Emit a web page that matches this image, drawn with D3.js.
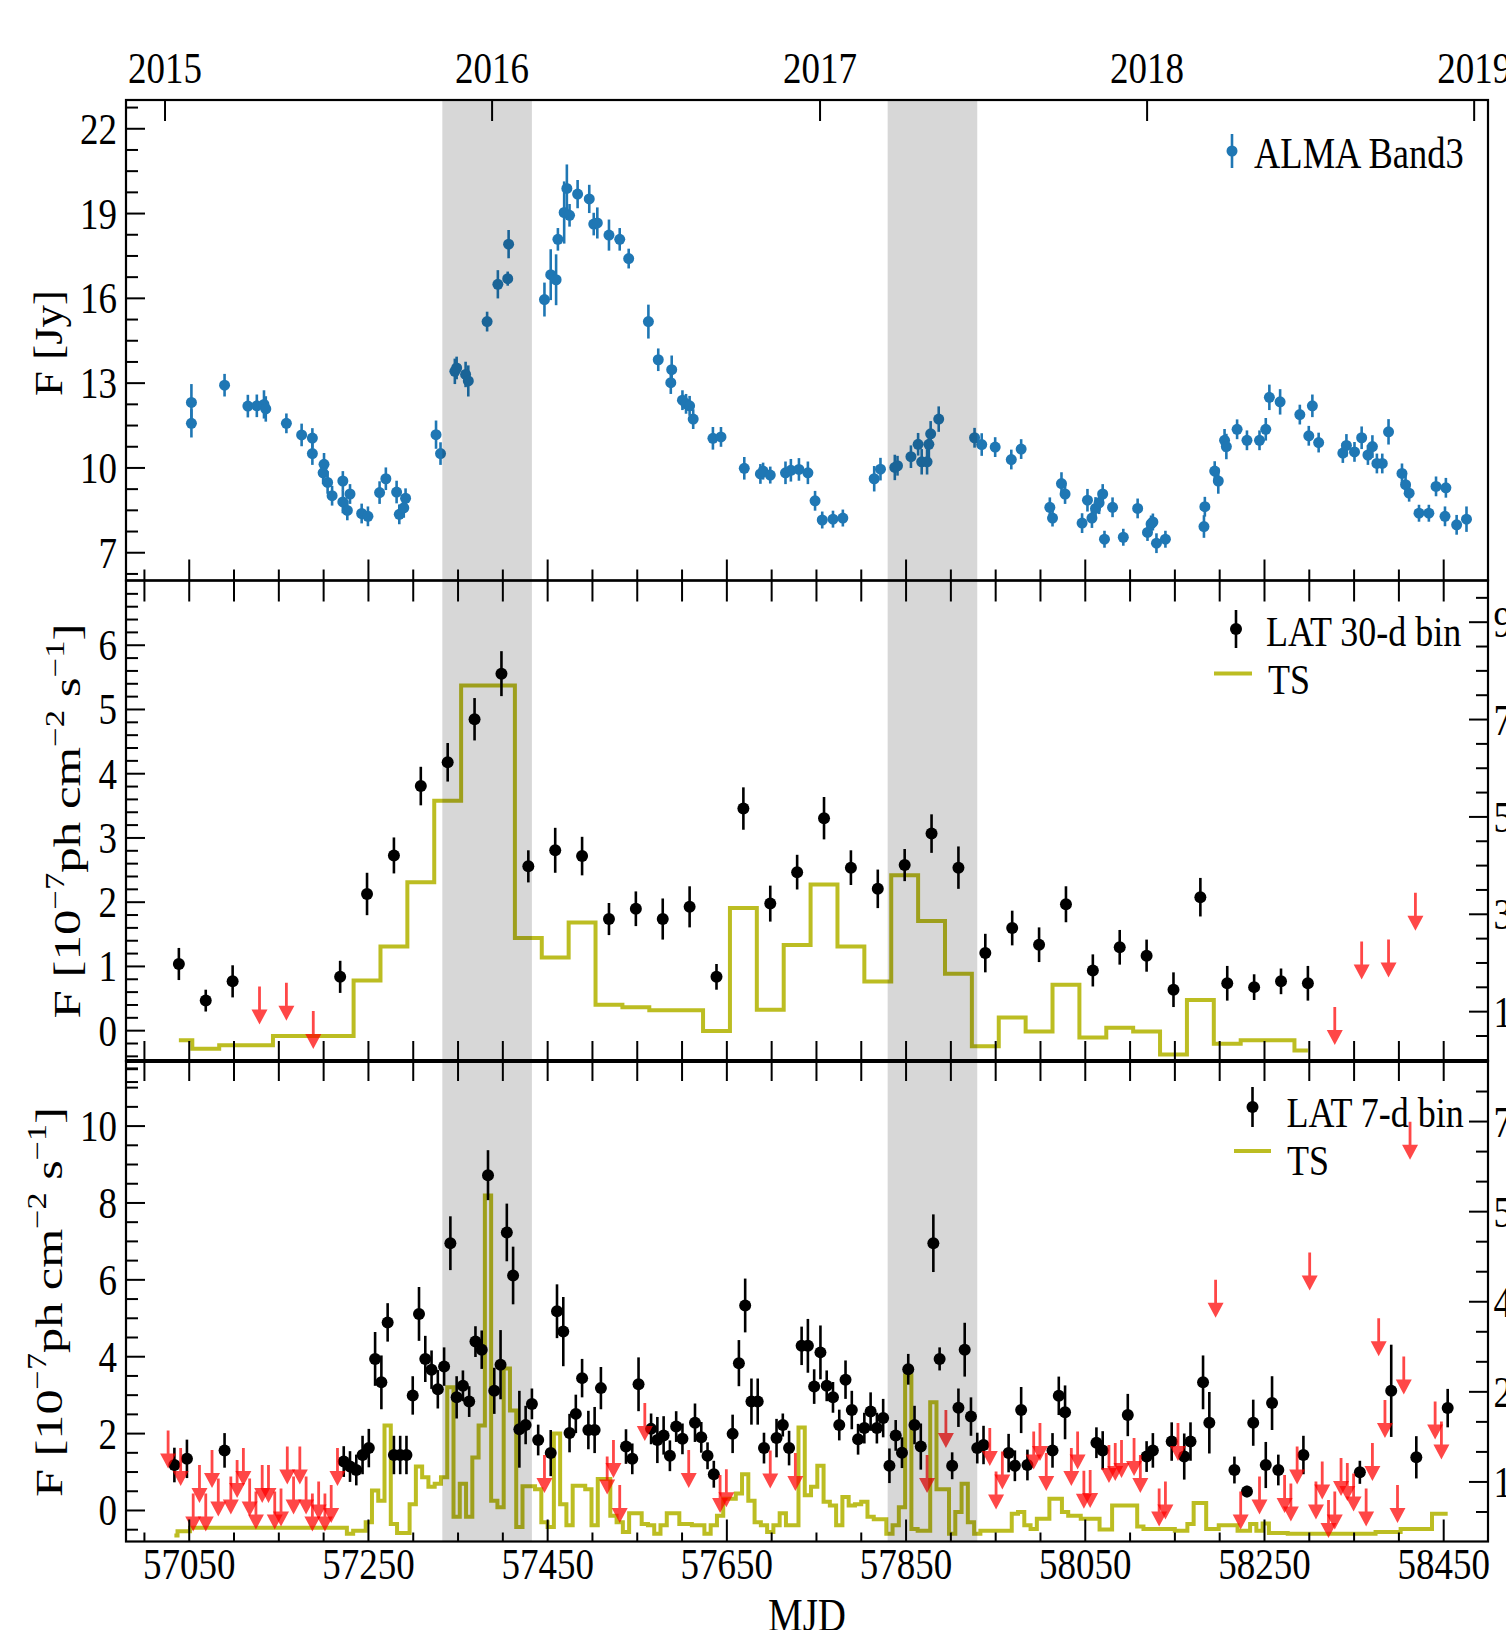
<!DOCTYPE html>
<html>
<head>
<meta charset="utf-8">
<script src="https://cdn.jsdelivr.net/npm/d3@7"></script>
<style>
  body { margin: 0; background: #fff; }
  svg { display: block; }
  text { font-family: "Liberation Serif", "Times New Roman", serif; fill: #000; }
</style>
</head>
<body>
<svg id="chart" width="1506" height="1630"></svg>
<script>
/* ********* data ********* */

// ALMA Band 3 light curve (MJD, flux density in Jy, 1-sigma error)
const almaMJD = [57053,57053,57090,57116,57126,57134,57136,57159,57176,57188,
  57188,57201,57200,57205,57210,57222,57222,57227,57230,57243,
  57250,57263,57270,57282,57285,57290,57292,57326,57331,57347,
  57349,57359,57362,57383,57395,57406,57407,57447,57454,57460,
  57462,57469,57472,57475,57484,57497,57502,57506,57519,57531,
  57541,57563,57574,57588,57589,57601,57605,57609,57613,57635,
  57644,57670,57688,57691,57699,57716,57722,57731,57741,57749,
  57757,57769,57780,57815,57822,57838,57841,57856,57864,57868,
  57874,57876,57878,57887,57927,57935,57950,57968,57979,58011,
  58014,58024,58028,58047,58053,58058,58062,58066,58070,58072,
  58081,58093,58109,58120,58124,58126,58130,58140,58183,58184,
  58195,58199,58206,58208,58220,58231,58245,58252,58256,58268,
  58290,58300,58304,58311,58338,58342,58351,58359,58366,58371,
  58376,58382,58389,58404,58408,58412,58423,58434,58442,58452,
  58453,58465,58476];
const almaFlux = [12.30,11.56,12.91,12.17,12.18,12.23,12.07,11.56,11.15,11.04,
  10.49,10.11,9.81,9.47,9.00,9.52,8.78,8.48,9.06,8.37,
  8.27,9.11,9.60,9.13,8.34,8.57,8.91,11.16,10.49,13.40,
  13.52,13.29,13.06,15.16,16.48,16.68,17.90,15.94,16.82,16.64,
  18.07,19.02,19.87,18.92,19.67,19.50,18.61,18.65,18.22,18.07,
  17.39,15.16,13.81,13.00,13.46,12.38,12.25,12.18,11.71,11.03,
  11.08,9.97,9.77,9.87,9.73,9.81,9.90,9.93,9.81,8.82,
  8.14,8.17,8.21,9.60,9.94,10.00,10.06,10.38,10.82,10.20,
  10.20,10.82,11.19,11.71,11.05,10.81,10.72,10.28,10.65,8.59,
  8.21,9.43,9.06,8.03,8.84,8.21,8.55,8.75,9.06,7.46,
  8.59,7.53,8.55,7.70,8.00,8.07,7.32,7.46,7.91,8.61,
  9.87,9.52,10.96,10.74,11.35,10.96,10.96,11.35,12.48,12.32,
  11.87,11.12,12.18,10.88,10.51,10.78,10.55,11.05,10.44,10.74,
  10.14,10.14,11.26,9.79,9.39,9.09,8.38,8.38,9.33,8.27,
  9.28,7.97,8.17];
const almaErr = [0.65,0.5,0.4,0.4,0.4,0.5,0.45,0.35,0.4,0.35,
  0.4,0.4,0.4,0.4,0.35,0.35,0.4,0.35,0.35,0.35,
  0.35,0.4,0.4,0.4,0.35,0.35,0.35,0.5,0.4,0.45,
  0.4,0.45,0.55,0.35,0.5,0.25,0.5,0.6,0.9,0.9,
  0.4,1.1,0.85,0.4,0.5,0.5,0.4,0.55,0.55,0.4,
  0.35,0.6,0.4,0.4,0.5,0.35,0.35,0.35,0.35,0.4,
  0.35,0.4,0.35,0.3,0.3,0.4,0.4,0.4,0.4,0.35,
  0.3,0.3,0.3,0.45,0.4,0.45,0.35,0.4,0.4,0.45,
  0.45,0.5,0.45,0.45,0.35,0.4,0.35,0.35,0.35,0.35,
  0.3,0.4,0.35,0.35,0.4,0.35,0.4,0.4,0.35,0.3,
  0.35,0.3,0.35,0.3,0.3,0.3,0.35,0.3,0.4,0.35,
  0.35,0.45,0.4,0.45,0.35,0.35,0.35,0.4,0.45,0.45,
  0.35,0.35,0.4,0.35,0.35,0.4,0.35,0.4,0.35,0.4,
  0.35,0.35,0.45,0.35,0.35,0.3,0.3,0.3,0.35,0.35,
  0.35,0.35,0.45];

// Fermi-LAT 30-day bins (flux in 1e-7 ph/cm2/s; err 0 = upper limit)
const lat30Start = 57039, lat30Step = 30;
const lat30Flux = [1.03,0.46,0.76,0.68,0.74,0.30,0.83,2.12,2.72,3.80,
  4.17,4.84,5.55,2.55,2.80,2.71,1.73,1.89,1.73,1.92,
  0.83,3.45,1.97,2.46,3.30,2.53,2.20,2.57,3.06,2.53,
  1.20,1.59,1.33,1.96,0.93,1.29,1.16,0.63,2.07,0.73,
  0.67,0.76,0.73,0.36,1.38,1.41,2.14];
const lat30Err = [0.25,0.17,0.25,0,0,0,0.25,0.33,0.28,0.30,
  0.30,0.33,0.35,0.25,0.35,0.30,0.25,0.27,0.32,0.32,
  0.20,0.33,0.28,0.27,0.33,0.27,0.30,0.25,0.30,0.33,
  0.30,0.27,0.27,0.28,0.25,0.27,0.25,0.27,0.30,0.27,
  0.20,0.20,0.27,0,0,0,0];
const lat30TS = [40,23,30,30,49,49,49,163,233,365,
  532,769,769,250,210,282,113,108,102,102,
  59,312,103,236,360,233,161,379,285,177,
  28,87,58,154,46,66,58,11,123,33,
  40,40,19];

// Fermi-LAT 7-day bins (null = no data; err 0 = upper limit)
const lat7Start = 57027, lat7Step = 7;
const lat7Flux = [2.07,1.17,1.61,1.33,0.43,1.17,0.43,1.56,0.82,1.55,
  0.87,1.30,1.61,0.82,0.48,1.17,1.17,0.48,0.56,1.65,
  0.87,1.65,0.87,0.43,0.74,0.43,0.65,1.61,1.26,1.13,
  1.04,1.43,1.61,3.93,3.32,4.88,1.43,1.43,1.43,2.98,
  5.10,3.93,3.65,3.14,3.73,6.94,2.93,3.23,2.82,4.38,
  4.17,8.71,3.10,3.78,7.22,6.10,2.10,2.21,2.76,1.82,
  1.43,1.48,5.17,4.64,2.00,2.50,3.43,2.08,2.08,3.17,
  1.39,1.82,0.65,1.65,1.33,3.27,2.78,2.11,1.82,1.94,
  1.41,2.17,1.85,1.56,2.27,1.89,1.41,0.93,0.91,1.06,
  1.98,3.82,5.32,2.82,2.82,1.61,1.55,1.87,2.21,1.61,
  1.48,4.27,4.27,3.21,4.10,3.23,2.93,2.21,3.39,2.60,
  1.84,2.13,2.56,2.13,2.39,1.15,1.94,1.49,3.66,2.21,
  1.65,1.43,6.94,3.93,2.60,1.15,2.66,4.17,2.43,1.61,
  1.69,2.13,1.00,1.52,1.48,1.15,2.60,1.17,2.04,2.26,
  1.48,1.55,2.97,2.54,1.61,2.04,1.02,1.04,1.75,1.55,
  1.69,1.74,1.82,2.47,1.87,1.43,1.39,1.55,0.56,0.74,
  1.78,2.26,1.39,1.78,null,3.32,2.27,5.99,null,null,
  1.04,0.48,0.48,2.27,0.87,1.17,2.78,1.04,0.91,0.69,
  1.65,1.43,6.70,0.74,1.26,0.26,0.48,1.35,1.22,0.95,
  0.98,0.56,1.74,4.99,2.86,3.10,0.65,3.99,10.1,1.37,
  null,null,2.82,2.30,2.65];
const lat7Err = [0,0.45,0,0.5,0,0,0,0,0,0.45,
  0,0,0,0,0,0,0,0,0,0,
  0,0,0,0,0,0,0,0,0.4,0.4,
  0.4,0.5,0.5,0.7,0.7,0.5,0.5,0.5,0.5,0.5,
  0.7,0.6,0.5,0.5,0.5,0.7,0.55,0.4,0.4,0.4,
  0.5,0.65,0.6,0.9,0.75,0.75,1.0,0.5,0.4,0.4,
  0,0.6,0.7,0.9,0.5,0.5,0.5,0.5,0.6,0.55,
  0,0,0,0.45,0.4,0.7,0,0.4,0.6,0.5,
  0.4,0.4,0.4,0,0.5,0.4,0.35,0.35,0,0,
  0.5,0.6,0.7,0.6,0.6,0.4,0,0.5,0.3,0.45,
  0,0.5,0.7,0.45,0.7,0.4,0.4,0.4,0.5,0.5,
  0.4,0.4,0.5,0.4,0.5,0.45,0.4,0.4,0.4,0.5,
  0.6,0,0.75,0.3,0,0.35,0.5,0.7,0.5,0.4,
  0.5,0,0,0,0.5,0.4,0.6,0.4,0,0,
  0,0.45,0.5,0.7,0,0,0,0,0.4,0.5,
  0,0,0,0.55,0,0,0.4,0.45,0,0,
  0.5,0,0.6,0.5,0,0.7,0.8,0,0,0,
  0.35,0,0.15,0.6,0,0.6,0.7,0.4,0,0,
  0,0.5,0,0,0,0,0,0,0,0,
  0.3,0,0,0,0,1.2,0,0,0,0.55,
  0,0,0,0,0.5];
const lat7TS = [null,1.0,1.7,1.7,2.3,2.3,2.3,2.3,2.3,2.3,
  2.3,2.3,2.3,2.3,2.3,2.3,2.3,2.3,2.3,2.3,
  2.3,2.3,2.3,2.3,2.3,2.3,2.3,2.3,2.3,1.3,
  1.8,1.8,3.2,8.5,6.8,19.3,2.9,1.4,1.4,6.2,
  12.5,10.7,9.1,9.6,10.7,25.7,4.1,9.6,4.1,14.0,
  19.3,57.6,6.8,5.7,28.8,21.8,2.4,9.2,9.2,8.7,
  3.2,2.4,18.0,6.2,2.7,9.3,9.3,8.7,2.7,10.4,
  10.4,4.3,3.2,1.6,4.7,4.7,2.9,2.7,1.3,2.7,
  4.7,4.7,2.9,2.9,2.7,2.7,1.3,2.7,4.3,7.1,
  7.1,8.0,11.2,6.8,3.2,2.7,1.6,2.7,4.7,2.7,
  2.7,19.0,7.7,9.1,12.6,6.6,6.0,2.7,7.4,6.0,
  6.2,6.6,4.1,3.7,3.7,1.3,2.7,5.7,27.7,2.1,
  1.8,1.8,23.2,8.7,8.7,1.3,4.9,9.6,3.2,1.3,
  1.8,1.8,1.8,1.8,1.8,4.6,4.9,2.7,2.1,3.8,
  3.8,7.1,7.1,4.9,4.3,4.3,3.8,3.8,3.8,2.0,
  2.0,6.0,6.0,6.0,6.0,2.5,2.1,2.1,2.1,2.1,
  2.1,1.8,1.8,2.9,6.4,6.4,2.1,2.1,2.7,2.7,
  2.7,1.8,1.8,2.9,1.8,3.0,1.4,1.4,1.4,1.3,
  1.3,1.3,1.3,1.3,1.3,1.3,1.3,1.3,1.3,1.3,
  1.3,1.3,1.3,1.6,1.6,1.6,1.6,2.1,2.1,2.1,
  2.1,2.1,4.6,4.6,4.6];

// shaded intervals (MJD)
const bands = [[57333, 57433], [57830, 57930]];

// axis ticks / labels
const yearLabels = ["2015", "2016", "2017", "2018", "2019"];
const yearMJD = [57023, 57388, 57754, 58119, 58484];
const mjdMajor = [57050, 57250, 57450, 57650, 57850, 58050, 58250, 58450];
const almaTicks = [7, 10, 13, 16, 19, 22];
const lat30Ticks = [0, 1, 2, 3, 4, 5, 6];
const lat7Ticks = [0, 2, 4, 6, 8, 10];
const ts30Ticks = [100, 300, 500, 700, 900];
const ts7Ticks = [10, 25, 40, 55, 70];

/* ********* layout ********* */
const BLUE = "#1f77b4", OLIVE = "#bcbd22", RED = "#ff0000";
const X0 = 126, X1 = 1488;
const P = [[100, 580.5], [580.5, 1061], [1061, 1541.5]];
const SY = 1.2;          // the figure is stretched vertically
const FS = 37;           // tick label size

const svg = d3.select("#chart");
const x = d3.scaleLinear().domain([56980, 58500]).range([X0, X1]);
const yA = d3.scaleLinear().domain([6, 23]).range([P[0][1], P[0][0]]);
const yM = d3.scaleLinear().domain([-0.48, 7]).range([P[1][1], P[1][0]]);
const yB = d3.scaleLinear().domain([-0.82, 11.68]).range([P[2][1], P[2][0]]);
const tsM = d3.scaleLinear().domain([-2.4, 984.6]).range([P[1][1], P[1][0]]);
const tsB = d3.scaleLinear().domain([0, 80]).range([P[2][1], P[2][0]]);

/* ********* helpers ********* */
function errbars(g, data, y, color, r) {
  g.selectAll(null).data(data).enter().append("line")
    .attr("x1", d => x(d.mjd)).attr("x2", d => x(d.mjd))
    .attr("y1", d => y(d.v - d.e)).attr("y2", d => y(d.v + d.e))
    .attr("stroke", color).attr("stroke-width", 2.6);
  g.selectAll(null).data(data).enter().append("circle")
    .attr("cx", d => x(d.mjd)).attr("cy", d => y(d.v)).attr("r", r)
    .attr("fill", color);
}

function arrows(g, data, y) {
  const L = 38, hh = 15, hw = 8, sw = 1.4;
  g.selectAll(null).data(data).enter().append("path")
    .attr("d", d => {
      const cx = x(d.mjd), y0 = y(d.v), yh = y0 + L - hh;
      return `M${cx - sw},${y0}L${cx + sw},${y0}L${cx + sw},${yh}L${cx + hw},${yh}` +
             `L${cx},${y0 + L}L${cx - hw},${yh}L${cx - sw},${yh}Z`;
    })
    .attr("fill", RED).attr("fill-opacity", 0.72);
}

function tsLine(g, data, y) {
  g.append("path").datum(data)
    .attr("d", d3.line().x(d => x(d.mjd)).y(d => y(d.t)).curve(d3.curveStep))
    .attr("fill", "none").attr("stroke", OLIVE).attr("stroke-width", 4);
}

function htext(g, str, px, py, size, anchor) {
  return g.append("text")
    .attr("transform", `translate(${px},${py}) scale(1,${SY})`)
    .attr("font-size", size).attr("text-anchor", anchor || "start").text(str);
}

function tickAxis(axisFn, scale, vals, len, tr, fmt) {
  const a = svg.append("g").attr("transform", tr)
    .call(axisFn(scale).tickValues(vals).tickSize(-len).tickFormat(fmt || ""));
  a.select(".domain").remove();
  a.attr("font-size", null).attr("font-family", null);
  a.selectAll("line").attr("stroke", "#000").attr("stroke-width", 2);
  if (!fmt) a.selectAll("text").remove();
  return a;
}

function placeLabels(a, dx, dy, anchor) {
  a.selectAll("text").attr("x", null).attr("y", null).attr("dy", null)
    .attr("fill", "#000").attr("font-size", FS).attr("text-anchor", anchor)
    .attr("transform", `translate(${dx},${dy}) scale(1,${SY})`);
}

function vTitle(parts, bx, cy, len, size) {
  const t = svg.append("text").attr("font-size", size).attr("text-anchor", "middle");
  parts.forEach(p => {
    const s = t.append("tspan").text(p.s);
    if (p.sup) s.attr("font-size", size * 0.68).attr("dy", -size * 0.42);
    if (p.back) s.attr("dy", size * 0.42);
  });
  const w = t.node().getComputedTextLength();
  t.attr("transform", `translate(${bx},${cy}) scale(1,${len / w}) rotate(-90)`);
}

/* ********* data layers ********* */
const plot = svg.append("g");

// top: ALMA
const almaData = almaMJD.map((m, i) => ({ mjd: m, v: almaFlux[i], e: almaErr[i] }));
errbars(plot.append("g"), almaData, yA, BLUE, 5.5);

// middle: LAT 30-d
const ts30 = lat30TS.map((t, i) => ({ mjd: lat30Start + lat30Step * i, t }));
tsLine(plot, ts30, tsM);
const l30 = lat30Flux.map((v, i) => ({ mjd: lat30Start + lat30Step * i, v, e: lat30Err[i] }));
errbars(plot.append("g"), l30.filter(d => d.e > 0), yM, "#000", 6);
arrows(plot.append("g"), l30.filter(d => d.e === 0), yM);

// bottom: LAT 7-d
const ts7 = lat7TS.map((t, i) => ({ mjd: lat7Start + lat7Step * i, t })).filter(d => d.t !== null);
tsLine(plot, ts7, tsB);
const l7 = lat7Flux.map((v, i) => ({ mjd: lat7Start + lat7Step * i, v, e: lat7Err[i] }))
  .filter(d => d.v !== null);
errbars(plot.append("g"), l7.filter(d => d.e > 0), yB, "#000", 6);
arrows(plot.append("g"), l7.filter(d => d.e === 0), yB);

// shaded intervals, laid over everything in the plot area
svg.append("g").selectAll("rect").data(bands).enter().append("rect")
  .attr("x", d => x(d[0])).attr("width", d => x(d[1]) - x(d[0]))
  .attr("y", P[0][0]).attr("height", P[2][1] - P[0][0])
  .attr("fill", "#000").attr("fill-opacity", 0.155);

/* ********* legends ********* */
const leg = svg.append("g");
function legErr(px, py, half, color, r) {
  leg.append("line").attr("x1", px).attr("x2", px).attr("y1", py - half).attr("y2", py + half)
    .attr("stroke", color).attr("stroke-width", 2.6);
  leg.append("circle").attr("cx", px).attr("cy", py).attr("r", r).attr("fill", color);
}
function legLine(xa, xb, py) {
  leg.append("line").attr("x1", xa).attr("x2", xb).attr("y1", py).attr("y2", py)
    .attr("stroke", OLIVE).attr("stroke-width", 4);
}
legErr(1232, 151, 17, BLUE, 5.5);
htext(leg, "ALMA Band3", 1254, 168, 36.5);
legErr(1236, 629, 19, "#000", 6);
htext(leg, "LAT 30-d bin", 1266, 646, 36);
legLine(1214, 1252, 673.5);
htext(leg, "TS", 1268, 694, 36);
legErr(1252.5, 1107, 20, "#000", 6);
htext(leg, "LAT 7-d bin", 1286.5, 1127, 36);
legLine(1234, 1271, 1151);
htext(leg, "TS", 1287, 1175, 36);

/* ********* axes ********* */
const mjdAll = d3.range(57000, 58500, 50);
const mjdMinor = mjdAll.filter(v => !mjdMajor.includes(v));

// top panel
tickAxis(d3.axisBottom, x, mjdMajor, 21, `translate(0,${P[0][1]})`);
tickAxis(d3.axisBottom, x, mjdMinor, 11, `translate(0,${P[0][1]})`);
const yrAx = tickAxis(d3.axisTop, x, yearMJD, 21, `translate(0,${P[0][0]})`, (d, i) => yearLabels[i]);
placeLabels(yrAx, 0, -17, "middle");
const aAx = tickAxis(d3.axisLeft, yA, almaTicks, 19, `translate(${X0},0)`, d3.format("d"));
placeLabels(aAx, -9, 15, "end");
tickAxis(d3.axisLeft, yA, d3.range(6.25, 23, 0.75).filter(v => !almaTicks.includes(v)), 12, `translate(${X0},0)`);

// middle panel
tickAxis(d3.axisTop, x, mjdAll, 21, `translate(0,${P[1][0]})`);
tickAxis(d3.axisBottom, x, mjdAll, 20, `translate(0,${P[1][1]})`);
const mAx = tickAxis(d3.axisLeft, yM, lat30Ticks, 19, `translate(${X0},0)`, d3.format("d"));
placeLabels(mAx, -9, 15, "end");
tickAxis(d3.axisLeft, yM, d3.range(-4, 35).map(v => v / 5).filter(v => !Number.isInteger(v)), 12, `translate(${X0},0)`);
const mrAx = tickAxis(d3.axisRight, tsM, ts30Ticks, 19, `translate(${X1},0)`, d3.format("d"));
placeLabels(mrAx, 5.5, 15, "start");
tickAxis(d3.axisRight, tsM, d3.range(50, 1000, 50).filter(v => !ts30Ticks.includes(v)), 12, `translate(${X1},0)`);

// bottom panel
tickAxis(d3.axisTop, x, mjdAll, 20, `translate(0,${P[2][0]})`);
const bAx = tickAxis(d3.axisBottom, x, mjdMajor, 22, `translate(0,${P[2][1]})`, d3.format("d"));
placeLabels(bAx, 0, 37, "middle");
tickAxis(d3.axisBottom, x, mjdMinor, 9, `translate(0,${P[2][1]})`);
const lAx = tickAxis(d3.axisLeft, yB, lat7Ticks, 19, `translate(${X0},0)`, d3.format("d"));
placeLabels(lAx, -9, 15, "end");
tickAxis(d3.axisLeft, yB, d3.range(-1, 24).map(v => v / 2).filter(v => v % 2 !== 0), 12, `translate(${X0},0)`);
const brAx = tickAxis(d3.axisRight, tsB, ts7Ticks, 19, `translate(${X1},0)`, d3.format("d"));
placeLabels(brAx, 5.5, 15, "start");
tickAxis(d3.axisRight, tsB, d3.range(5, 80, 5).filter(v => !ts7Ticks.includes(v)), 12, `translate(${X1},0)`);

// frames
svg.append("g").selectAll("rect").data(P).enter().append("rect")
  .attr("x", X0).attr("y", d => d[0]).attr("width", X1 - X0).attr("height", d => d[1] - d[0])
  .attr("fill", "none").attr("stroke", "#000").attr("stroke-width", 2.2);
svg.append("line").attr("x1", X0).attr("x2", X1).attr("y1", P[1][1]).attr("y2", P[1][1])
  .attr("stroke", "#000").attr("stroke-width", 4.2);

/* ********* titles ********* */
vTitle([{ s: "F [Jy]" }], 62, 343, 106, 39);
const fluxUnit = [{ s: "F [10" }, { s: "\u22127", sup: true }, { s: "ph cm", back: true },
  { s: "\u22122", sup: true }, { s: " s", back: true }, { s: "\u22121", sup: true }, { s: "]", back: true }];
vTitle(fluxUnit, 80, 821, 395, 39);
vTitle(fluxUnit, 62, 1302, 390, 39);
htext(svg, "MJD", (X0 + X1) / 2, 1631, 39, "middle");
</script>
</body>
</html>
